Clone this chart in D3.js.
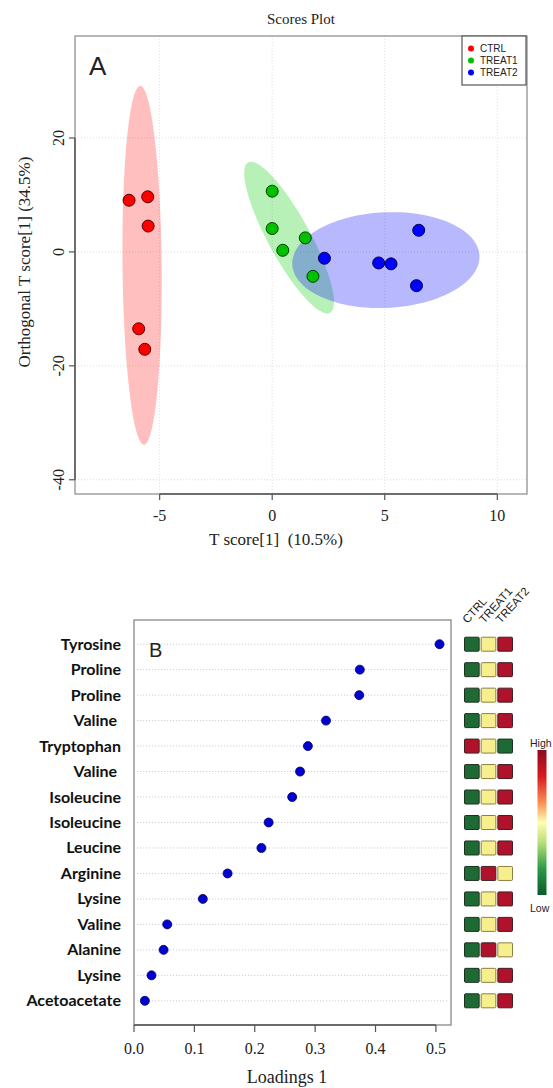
<!DOCTYPE html>
<html>
<head>
<meta charset="utf-8">
<script src="https://cdn.jsdelivr.net/npm/d3@7"></script>
<style>
  body { margin: 0; background: #fff; }
  .serif { font-family: "Liberation Serif", "Times New Roman", serif; fill: #222; }
  .sans { font-family: "Liberation Sans", Arial, sans-serif; fill: #222; }
  .row { font-family: Lato, "Open Sans", sans-serif; font-weight: bold; font-size: 16px; fill: #111; white-space: pre; }
</style>
</head>
<body>
<script>
// ---- panel A: OPLS-DA scores ----
var groups = ["CTRL", "TREAT1", "TREAT2"];
var groupColor = ["#ff0000", "#00c000", "#0000ff"];
var tScore     = [-6.36, -5.53, -5.51, -5.93, -5.66,  0.0, 0.0, 0.47, 1.47, 1.81,  2.32, 4.73, 5.28, 6.51, 6.41];
var orthoScore = [ 9.07,  9.67,  4.54, -13.5, -17.1, 10.66, 4.1, 0.28, 2.46, -4.29, -1.12, -1.94, -2.1, 3.8, -5.93];
var sampleGroup = [0,0,0,0,0, 1,1,1,1,1, 2,2,2,2,2];
// confidence ellipses: centre and two half-axis vectors (data units)
var ellCenter = [[-5.78, -2.34], [0.75, 2.51], [5.05, -1.44]];
var ellAxisA  = [[0.08, -31.5], [1.82, -13.19], [4.16, 0.58]];
var ellAxisB  = [[0.87, 0], [0.818, 1.776], [0, 8.4]];
var xTicksA = [-5, 0, 5, 10];
var yTicksA = [20, 0, -20, -40];

// ---- panel B: loadings ----
var metabolites = ["Tyrosine", "Proline", "Proline", "Valine ", "Tryptophan", "Valine ", "Isoleucine", "Isoleucine",
                   "Leucine", "Arginine", "Lysine", "Valine", "Alanine", "Lysine", "Acetoacetate"];
var loadings = [0.506, 0.374, 0.373, 0.318, 0.288, 0.275, 0.262, 0.223, 0.211, 0.155, 0.114, 0.055, 0.049, 0.029, 0.018];
// relative level per group: -1 low, 0 mid, 1 high
var ctrlLevel   = [-1, -1, -1, -1,  1, -1, -1, -1, -1, -1, -1, -1, -1, -1, -1];
var treat1Level = [ 0,  0,  0,  0,  0,  0,  0,  0,  0,  1,  0,  0,  1,  0,  0];
var treat2Level = [ 1,  1,  1,  1, -1,  1,  1,  1,  1,  0,  1,  1,  0,  1,  1];
var xTicksB = [0, 0.1, 0.2, 0.3, 0.4, 0.5];

var svg = d3.select("body").append("svg")
    .attr("width", 553)
    .attr("height", 1088);

// ================= panel A =================
var x = d3.scaleLinear().domain([-8.76, 11.32]).range([75, 527]);
var y = d3.scaleLinear().domain([-42.5, 37.9]).range([494, 36]);

var gA = svg.append("g");

// grid
gA.selectAll(".vgrid").data(xTicksA).enter().append("line")
    .attr("x1", d => x(d)).attr("x2", d => x(d))
    .attr("y1", y.range()[1]).attr("y2", y.range()[0])
    .attr("stroke", "#ddd").attr("stroke-dasharray", "1,2");
gA.selectAll(".hgrid").data(yTicksA).enter().append("line")
    .attr("x1", x.range()[0]).attr("x2", x.range()[1])
    .attr("y1", d => y(d)).attr("y2", d => y(d))
    .attr("stroke", "#ddd").attr("stroke-dasharray", "1,2");

// ellipses
var ellLine = d3.line().x(d => x(d[0])).y(d => y(d[1]));
var tSteps = d3.range(0, 2 * Math.PI + 0.01, Math.PI / 60);
var ellFill = ["#ff0000", "#00cc00", "#0000ff"];
var ellOp = [0.25, 0.28, 0.28];
groups.forEach(function(g, i) {
    var pts = tSteps.map(function(t) {
        return [ellCenter[i][0] + ellAxisA[i][0] * Math.cos(t) + ellAxisB[i][0] * Math.sin(t),
                ellCenter[i][1] + ellAxisA[i][1] * Math.cos(t) + ellAxisB[i][1] * Math.sin(t)];
    });
    gA.append("path")
        .attr("d", ellLine(pts))
        .attr("fill", ellFill[i])
        .attr("fill-opacity", ellOp[i]);
});

// points
var darker = ["#5a0000", "#004000", "#000050"];
gA.selectAll(".pt").data(d3.range(tScore.length)).enter().append("circle")
    .attr("cx", i => x(tScore[i]))
    .attr("cy", i => y(orthoScore[i]))
    .attr("r", 6)
    .attr("fill", i => groupColor[sampleGroup[i]])
    .attr("stroke", i => darker[sampleGroup[i]])
    .attr("stroke-width", 1);

// box
gA.append("rect")
    .attr("x", x.range()[0]).attr("y", y.range()[1])
    .attr("width", x.range()[1] - x.range()[0])
    .attr("height", y.range()[0] - y.range()[1])
    .attr("fill", "none").attr("stroke", "#888").attr("stroke-width", 1.2);

// axes (R style: line spans first..last tick)
var xAxisA = gA.append("g").attr("transform", "translate(0," + y.range()[0] + ")");
xAxisA.append("line")
    .attr("x1", x(d3.min(xTicksA))).attr("x2", x(d3.max(xTicksA)))
    .attr("stroke", "#555").attr("stroke-width", 1.5);
xAxisA.selectAll(".tk").data(xTicksA).enter().append("line")
    .attr("x1", d => x(d)).attr("x2", d => x(d)).attr("y1", 0).attr("y2", 6)
    .attr("stroke", "#555").attr("stroke-width", 1.2);
xAxisA.selectAll(".tl").data(xTicksA).enter().append("text")
    .attr("class", "serif").attr("font-size", 16)
    .attr("x", d => x(d)).attr("y", 27)
    .attr("text-anchor", "middle")
    .text(d => d);

var yAxisA = gA.append("g").attr("transform", "translate(" + x.range()[0] + ",0)");
yAxisA.append("line")
    .attr("y1", y(d3.max(yTicksA))).attr("y2", y(d3.min(yTicksA)))
    .attr("stroke", "#555").attr("stroke-width", 1.5);
yAxisA.selectAll(".tk").data(yTicksA).enter().append("line")
    .attr("y1", d => y(d)).attr("y2", d => y(d)).attr("x1", 0).attr("x2", -6)
    .attr("stroke", "#555").attr("stroke-width", 1.2);
yAxisA.selectAll(".tl").data(yTicksA).enter().append("text")
    .attr("class", "serif").attr("font-size", 16)
    .attr("transform", d => "translate(-11," + y(d) + ") rotate(-90)")
    .attr("text-anchor", "middle")
    .text(d => d);

svg.append("text").attr("class", "serif").attr("font-size", 15)
    .attr("x", 301).attr("y", 24).attr("text-anchor", "middle")
    .text("Scores Plot");
svg.append("text").attr("class", "serif").attr("font-size", 17)
    .attr("x", 276).attr("y", 545).attr("text-anchor", "middle")
    .style("white-space", "pre")
    .text("T score[1]  (10.5%)");
svg.append("text").attr("class", "serif").attr("font-size", 17)
    .attr("transform", "translate(30,262) rotate(-90)")
    .attr("text-anchor", "middle")
    .text("Orthogonal T score[1] (34.5%)");
svg.append("text").attr("class", "sans").attr("font-size", 26)
    .attr("x", 89).attr("y", 75).text("A");

// legend
var leg = svg.append("g");
leg.append("rect").attr("x", 462).attr("y", 36).attr("width", 64).attr("height", 49)
    .attr("fill", "#fff").attr("stroke", "#555").attr("stroke-width", 1.2);
groups.forEach(function(g, i) {
    leg.append("circle").attr("cx", 471).attr("cy", 48.5 + i * 12).attr("r", 3)
        .attr("fill", groupColor[i]);
    leg.append("text").attr("class", "sans").attr("font-size", 10)
        .attr("x", 480).attr("y", 52 + i * 12).text(g);
});

// ================= panel B =================
var xB = d3.scaleLinear().domain([0, 0.525]).range([134, 451]);
var yB = d3.scalePoint().domain(d3.range(metabolites.length)).range([620, 1025]).padding(0.95);
var gB = svg.append("g");

gB.selectAll(".rg").data(d3.range(metabolites.length)).enter().append("line")
    .attr("x1", xB.range()[0] + 3).attr("x2", xB.range()[1] - 3)
    .attr("y1", i => yB(i)).attr("y2", i => yB(i))
    .attr("stroke", "#cfcfcf").attr("stroke-dasharray", "1.2,1.8");

gB.append("rect")
    .attr("x", xB.range()[0]).attr("y", yB.range()[0])
    .attr("width", xB.range()[1] - xB.range()[0])
    .attr("height", yB.range()[1] - yB.range()[0])
    .attr("fill", "none").attr("stroke", "#888").attr("stroke-width", 1.3);

gB.selectAll(".dot").data(d3.range(metabolites.length)).enter().append("circle")
    .attr("cx", i => xB(loadings[i]))
    .attr("cy", i => yB(i))
    .attr("r", 4.5)
    .attr("fill", "#0000d0")
    .attr("stroke", "#000060").attr("stroke-width", 0.8);

gB.selectAll(".lab").data(d3.range(metabolites.length)).enter().append("text")
    .attr("class", "row")
    .attr("x", 121).attr("y", i => yB(i) + 5.5)
    .attr("text-anchor", "end")
    .text(i => metabolites[i]);

var xAxisB = gB.append("g").attr("transform", "translate(0," + yB.range()[1] + ")");
xAxisB.append("line")
    .attr("x1", xB(0)).attr("x2", xB(0.5))
    .attr("stroke", "#555").attr("stroke-width", 1.5);
xAxisB.selectAll(".tk").data(xTicksB).enter().append("line")
    .attr("x1", d => xB(d)).attr("x2", d => xB(d)).attr("y1", 0).attr("y2", 7)
    .attr("stroke", "#555").attr("stroke-width", 1.2);
xAxisB.selectAll(".tl").data(xTicksB).enter().append("text")
    .attr("class", "serif").attr("font-size", 16)
    .attr("x", d => xB(d)).attr("y", 29)
    .attr("text-anchor", "middle")
    .text(d3.format(".1f"));
svg.append("text").attr("class", "serif").attr("font-size", 18)
    .attr("x", 287).attr("y", 1083).attr("text-anchor", "middle")
    .text("Loadings 1");
svg.append("text").attr("class", "sans").attr("font-size", 20)
    .attr("x", 149).attr("y", 657).text("B");

// heat cells
var levels = [ctrlLevel, treat1Level, treat2Level];
var cellColor = d3.scaleOrdinal().domain([-1, 0, 1]).range(["#1d6a34", "#f7ef8e", "#b0112b"]);
var cellStroke = d3.scaleOrdinal().domain([-1, 0, 1]).range(["#203020", "#8a8040", "#402020"]);
var col = d3.scaleBand().domain(groups).range([464.5, 512.5]).paddingInner(0.12);
groups.forEach(function(g, j) {
    gB.selectAll(".c" + j).data(d3.range(metabolites.length)).enter().append("rect")
        .attr("x", col(g)).attr("y", i => yB(i) - 7)
        .attr("width", col.bandwidth()).attr("height", 14)
        .attr("rx", 1)
        .attr("fill", i => cellColor(levels[j][i]))
        .attr("stroke", i => cellStroke(levels[j][i])).attr("stroke-width", 1);
    gB.append("text").attr("class", "sans").attr("font-size", 11.5)
        .attr("transform", "translate(" + (col(g) + 3) + ",624) rotate(-48)")
        .text(g);
});

// colour key
var defs = svg.append("defs");
var grad = defs.append("linearGradient").attr("id", "key")
    .attr("x1", 0).attr("x2", 0).attr("y1", 0).attr("y2", 1);
var keyStops = [[0, "#8c0a1e"], [0.18, "#d7191c"], [0.36, "#f98e52"], [0.5, "#fefeb0"],
                [0.64, "#b6df76"], [0.82, "#2a9a48"], [1, "#0b5a2a"]];
keyStops.forEach(function(s) {
    grad.append("stop").attr("offset", s[0]).attr("stop-color", s[1]);
});
svg.append("rect").attr("x", 537.5).attr("y", 750).attr("width", 9).attr("height", 145)
    .attr("fill", "url(#key)");
svg.append("text").attr("class", "sans").attr("font-size", 10.5)
    .attr("x", 530).attr("y", 747).text("High");
svg.append("text").attr("class", "sans").attr("font-size", 10.5)
    .attr("x", 530).attr("y", 912).text("Low");
</script>
</body>
</html>
